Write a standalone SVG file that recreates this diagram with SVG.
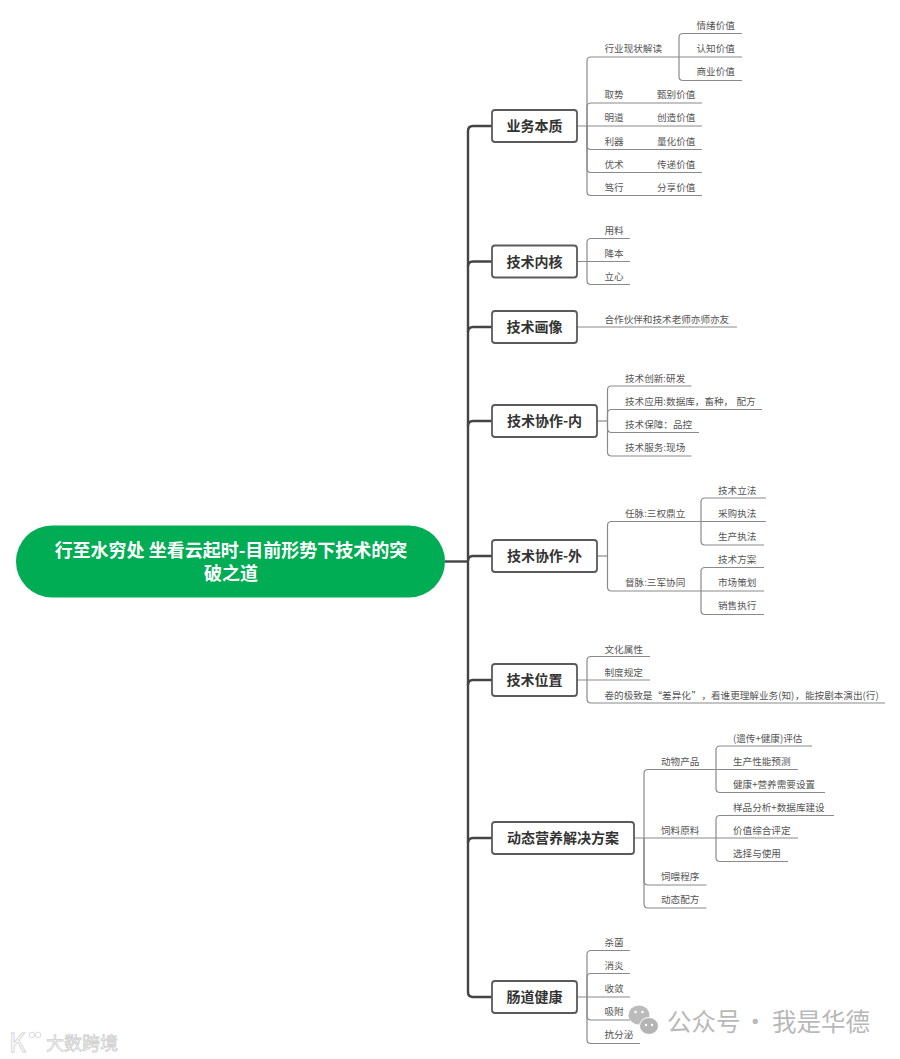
<svg xmlns="http://www.w3.org/2000/svg" width="900" height="1059" viewBox="0 0 900 1059">
<style>
text{font-family:"Noto Sans CJK SC","Noto Sans",sans-serif}
.t{font-size:9.6px;fill:#555}
.m{font-size:14px;font-weight:700;fill:#333;text-anchor:middle}
.n{fill:#fff;stroke:#5a5a5a;stroke-width:1.800}
.r{font-size:18px;font-weight:700;fill:#fff;text-anchor:middle}
.c1{fill:none;stroke:#444;stroke-width:2.400}
.c2{fill:none;stroke:#8a8a8a;stroke-width:1.200}
.w{font-size:24.500px;fill:#b8b8b8}
</style>
<rect width="900" height="1059" fill="#fff"/>
<g id="connectors">
<g class="c1">
<path d="M445 561.500H468"/>
<path d="M492 126H473Q468 126 468 131V992Q468 997 473 997H492"/>
<path d="M468 266.500Q468 261.500 473 261.500H492"/>
<path d="M468 332Q468 327 473 327H492"/>
<path d="M468 426Q468 421 473 421H492"/>
<path d="M468 561Q468 556 473 556H492"/>
<path d="M468 685Q468 680 473 680H492"/>
<path d="M468 843Q468 838 473 838H492"/>
</g>
<g class="c2">
<path d="M577 126H702"/>
<path d="M587 126V61Q587 57 591 57H742"/>
<path d="M587 126V107Q587 103 591 103H702"/>
<path d="M587 126V145.500Q587 149.500 591 149.500H702"/>
<path d="M587 126V168.500Q587 172.500 591 172.500H702"/>
<path d="M587 126V191.500Q587 195.500 591 195.500H702"/>
<path d="M679 57V37.500Q679 33.500 683 33.500H742"/>
<path d="M679 57V76.500Q679 80.500 683 80.500H742"/>
<path d="M577 261.500H630"/>
<path d="M587 261.500V242.500Q587 238.500 591 238.500H630"/>
<path d="M587 261.500V280.500Q587 284.500 591 284.500H630"/>
<path d="M577 327H737"/>
<path d="M597 421H607.500"/>
<path d="M607.500 421V390Q607.500 386 611.500 386H691.500"/>
<path d="M607.500 421V413.500Q607.500 409.500 611.500 409.500H762"/>
<path d="M607.500 421V428.500Q607.500 432.500 611.500 432.500H699"/>
<path d="M607.500 421V452Q607.500 456 611.500 456H691.500"/>
<path d="M597 556H607.500"/>
<path d="M607.500 556V525.500Q607.500 521.500 611.500 521.500H766"/>
<path d="M607.500 556V587Q607.500 591 611.500 591H764"/>
<path d="M701 521.500V502Q701 498 705 498H766"/>
<path d="M701 521.500V541Q701 545 705 545H764"/>
<path d="M701 591V571.500Q701 567.500 705 567.500H764"/>
<path d="M701 591V610.500Q701 614.500 705 614.500H764"/>
<path d="M577 680H650"/>
<path d="M587 680V660.500Q587 656.500 591 656.500H650"/>
<path d="M587 680V699Q587 703 591 703H885"/>
<path d="M634 838H798"/>
<path d="M644 838V773.500Q644 769.500 648 769.500H798"/>
<path d="M644 838V881Q644 885 648 885H706.500"/>
<path d="M644 838V904Q644 908 648 908H706.500"/>
<path d="M716 769.500V750Q716 746 720 746H812"/>
<path d="M716 769.500V788.500Q716 792.500 720 792.500H825"/>
<path d="M716 838V819.500Q716 815.500 720 815.500H834"/>
<path d="M716 838V857.500Q716 861.500 720 861.500H788"/>
<path d="M577 997H630"/>
<path d="M587 997V954.500Q587 950.500 591 950.500H630"/>
<path d="M587 997V977.500Q587 973.500 591 973.500H630"/>
<path d="M587 997V1016Q587 1020 591 1020H630"/>
<path d="M587 997V1039.500Q587 1043.500 591 1043.500H640"/>
</g>
</g>
<g id="root">
<rect x="16" y="525.500" width="429" height="72" rx="36" fill="#00ad54"/>
<text class="r" x="231" y="557">行至水穷处 坐看云起时-目前形势下技术的突<tspan x="231" y="580">破之道</tspan></text>
</g>
<g id="n1">
<rect class="n" x="492" y="110" width="85" height="32" rx="3"/>
<text class="m" x="534.500" y="131">业务本质</text>
<text class="t" x="604.500" y="52">行业现状解读</text>
<text class="t" x="696.500" y="29">情绪价值</text>
<text class="t" x="696.500" y="52">认知价值</text>
<text class="t" x="696.500" y="75">商业价值</text>
<text class="t" x="604.500" y="98">取势<tspan x="657">甄别价值</tspan></text>
<text class="t" x="604.500" y="121">明道<tspan x="657">创造价值</tspan></text>
<text class="t" x="604.500" y="144.500">利器<tspan x="657">量化价值</tspan></text>
<text class="t" x="604.500" y="167.500">优术<tspan x="657">传递价值</tspan></text>
<text class="t" x="604.500" y="191">笃行<tspan x="657">分享价值</tspan></text>
</g>
<g id="n2">
<rect class="n" x="492" y="245.500" width="85" height="32" rx="3"/>
<text class="m" x="534.500" y="266.500">技术内核</text>
<text class="t" x="604.500" y="234">用料</text>
<text class="t" x="604.500" y="257">降本</text>
<text class="t" x="604.500" y="280">立心</text>
</g>
<g id="n3">
<rect class="n" x="492" y="311" width="85" height="32" rx="3"/>
<text class="m" x="534.500" y="332">技术画像</text>
<text class="t" x="604.500" y="323">合作伙伴和技术老师亦师亦友</text>
</g>
<g id="n4">
<rect class="n" x="492" y="405" width="105" height="32" rx="3"/>
<text class="m" x="544.500" y="426">技术协作-内</text>
<text class="t" x="625" y="382">技术创新:研发</text>
<text class="t" x="625" y="405">技术应用:数据库，畜种，<tspan x="736.500">配方</tspan></text>
<text class="t" x="625" y="428">技术保障：品控</text>
<text class="t" x="625" y="451">技术服务:现场</text>
</g>
<g id="n5">
<rect class="n" x="492" y="540" width="105" height="32" rx="3"/>
<text class="m" x="544.500" y="561">技术协作-外</text>
<text class="t" x="625" y="517">任脉:三权鼎立</text>
<text class="t" x="625" y="586">督脉:三军协同</text>
<text class="t" x="718" y="494">技术立法</text>
<text class="t" x="718" y="517">采购执法</text>
<text class="t" x="718" y="540">生产执法</text>
<text class="t" x="718" y="563">技术方案</text>
<text class="t" x="718" y="586">市场策划</text>
<text class="t" x="718" y="609">销售执行</text>
</g>
<g id="n6">
<rect class="n" x="492" y="664" width="85" height="32" rx="3"/>
<text class="m" x="534.500" y="685">技术位置</text>
<text class="t" x="604.500" y="653">文化属性</text>
<text class="t" x="604.500" y="676">制度规定</text>
<text class="t" x="604.500" y="699">卷的极致是<tspan x="652.500">“差异化</tspan><tspan x="691.500">”</tspan><tspan x="701.500">，</tspan><tspan x="711">看谁更理解业务(知)</tspan><tspan x="795">，</tspan><tspan x="805">能按剧本演出(行)</tspan></text>
</g>
<g id="n7">
<rect class="n" x="492" y="822" width="142" height="32" rx="3"/>
<text class="m" x="563" y="843">动态营养解决方案</text>
<text class="t" x="661" y="764.500">动物产品</text>
<text class="t" x="661" y="834">饲料原料</text>
<text class="t" x="661" y="880">饲喂程序</text>
<text class="t" x="661" y="903">动态配方</text>
<text class="t" x="733" y="741.500">(遗传+健康)评估</text>
<text class="t" x="733" y="765">生产性能预测</text>
<text class="t" x="733" y="788">健康+营养需要设置</text>
<text class="t" x="733" y="811">样品分析+数据库建设</text>
<text class="t" x="733" y="834">价值综合评定</text>
<text class="t" x="733" y="857">选择与使用</text>
</g>
<g id="n8">
<rect class="n" x="492" y="981" width="85" height="32" rx="3"/>
<text class="m" x="534.500" y="1002">肠道健康</text>
<text class="t" x="604.500" y="946">杀菌</text>
<text class="t" x="604.500" y="969">消炎</text>
<text class="t" x="604.500" y="992">收敛</text>
<text class="t" x="604.500" y="1015">吸附</text>
<text class="t" x="604.500" y="1038">抗分泌</text>
</g>
<g id="watermarks">
<g fill="#b4b4b4">
<ellipse cx="639" cy="1015" rx="10.500" ry="9.500" opacity=".9"/>
<ellipse cx="649" cy="1026" rx="9.500" ry="8.500" stroke="#fff" stroke-width="1"/>
</g>
<g fill="#fff"><circle cx="635.500" cy="1012" r="1.300"/><circle cx="642.500" cy="1012" r="1.300"/><circle cx="646" cy="1025" r="1.200"/><circle cx="652" cy="1025" r="1.200"/></g>
<text class="w" x="667" y="1031">公众号<tspan x="743">·</tspan><tspan x="772">我是华德</tspan></text>
<g fill="#fff" stroke="#d0d0d0" stroke-width=".8">
<text x="9" y="1052" font-size="26">K</text>
<circle cx="32" cy="1035" r="2.800"/><circle cx="38" cy="1035" r="2.800"/>
<text x="46" y="1049.500" font-size="18">大数跨境</text>
</g>
</g>
</svg>
